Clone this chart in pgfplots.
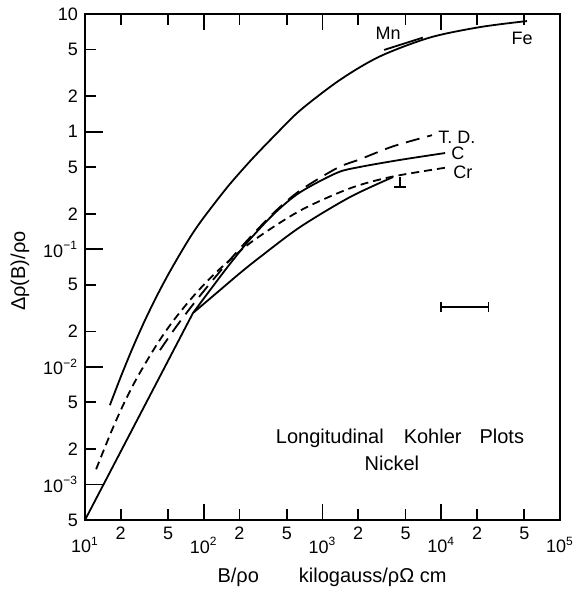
\documentclass[border=0pt]{standalone}
\usepackage{fontspec}
\setmainfont{Liberation Sans}
\usepackage{pgfplots}
\pgfplotsset{compat=1.18}

\begin{document}
\begin{tikzpicture}
\begin{loglogaxis}[
  scale only axis,
  width=237.5pt, height=253pt,
  xmin=10, xmax=1e5, ymin=5e-4, ymax=10,
  axis line style={line width=1.1pt},
  tick style={line width=0.9pt, black},
  tick align=inside,
  xtick pos=both, ytick pos=left,
  major tick length=5.5pt, minor tick length=0pt,
  /pgf/number format/assume math mode=true,
  ticklabel style={font=\fontsize{9}{10}\selectfont},
  xtick={20,50,200,500,2000,5000,20000,50000},
  xticklabels={2,5,2,5,2,5,2,5},
  extra x ticks={10,100,1000,10000,100000},
  extra x tick labels={10\textsuperscript{1},10\textsuperscript{2},10\textsuperscript{3},10\textsuperscript{4},10\textsuperscript{5}},
  extra x tick style={major tick length=8pt, xticklabel style={yshift=-5pt}},
  ytick={5e-4,2e-3,5e-3,2e-2,5e-2,0.2,0.5,2,5,10},
  yticklabels={5,2,5,2,5,2,5,2,5,10},
  extra y ticks={1e-3,1e-2,0.1,1},
  extra y tick labels={10\textsuperscript{−3},10\textsuperscript{−2},10\textsuperscript{−1},1},
  extra y tick style={major tick length=9pt},
  xlabel={B/ρo\hspace{20pt}kilogauss/ρΩ cm},
  ylabel={Δρ(B)/ρo},
  label style={font=\fontsize{10}{12}\selectfont},
  xlabel style={at={(axis description cs:0.52,-0.113)}, anchor=center},
  ylabel style={at={(axis description cs:-0.137,0.492)}, anchor=center},
  every axis plot/.append style={black, line width=0.9pt},
]
% Mn / Fe
\addplot[smooth] coordinates {(16.2,4.73e-3) (19.95,8.17e-3) (25.1,0.0144) (31.6,0.0243) (39.8,0.0392) (50.1,0.0608) (63.1,0.0912) (79.4,0.1334) (100,0.1862) (158.5,0.339) (251,0.575) (398,0.933) (647,1.514) (1403,2.754) (3048,4.365) (8035,6.31) (21180,7.74) (52720,8.71)};
\addplot[no marks] coordinates {(3300,4.95) (7000,6.3)};
% C
\addplot[no marks] coordinates {(10,5e-4) (81.1,0.0287)};
\addplot[smooth] coordinates {(81.1,0.0287) (113,0.045) (166,0.075) (245,0.1216) (398,0.204) (647,0.305) (1325,0.447) (2069,0.501) (4494,0.575) (10770,0.658)};
% T.D.
\addplot[smooth, dash pattern=on 7pt off 4pt] coordinates {(42.8,0.0139) (57.3,0.0213) (81.1,0.0339) (113,0.0513) (166,0.0813) (245,0.126) (398,0.209) (647,0.316) (1325,0.49) (2069,0.582) (3925,0.75) (8356,0.933)};
% Cr
\addplot[smooth, dash pattern=on 4pt off 2.5pt] coordinates {(12.4,1.35e-3) (16.9,2.92e-3) (21.7,5.11e-3) (27.9,8.34e-3) (40.4,0.0156) (55.1,0.0245) (76.6,0.037) (106,0.0531) (145,0.0719) (260,0.118) (647,0.213) (1706,0.33) (3846,0.414) (10770,0.493)};
% lower solid
\addplot[smooth] coordinates {(81.1,0.0287) (137,0.045) (202,0.0628) (298,0.0859) (647,0.1545) (1706,0.278) (3925,0.411)};
\addplot[no marks] coordinates {(4494,0.41) (4494,0.338)};
\addplot[no marks] coordinates {(4000,0.338) (5050,0.338)};
% resolution bar
\addplot[mark=|, mark size=2.5pt] coordinates {(1e4,0.0323) (2.5e4,0.0323)};

\node[font=\fontsize{9}{10}\selectfont] at (axis cs:3565,6.89) {Mn};
\node[font=\fontsize{9}{10}\selectfont] at (axis cs:47860,6.25) {Fe};
\node[font=\fontsize{9}{10}\selectfont, anchor=west, inner sep=0.5pt] at (axis cs:9204,0.9) {T. D.};
\node[font=\fontsize{9}{10}\selectfont, anchor=west, inner sep=0.5pt] at (axis cs:11860,0.658) {C};
\node[font=\fontsize{9}{10}\selectfont, anchor=west, inner sep=0.5pt] at (axis cs:12330,0.453) {Cr};
\node[font=\fontsize{10}{12}\selectfont] at (axis cs:4494,2.48e-3) {Longitudinal\hspace{10pt}Kohler\hspace{9pt}Plots};
\node[font=\fontsize{10}{12}\selectfont] at (axis cs:3846,1.52e-3) {Nickel};

\coordinate (ll) at (rel axis cs:0,0);
\coordinate (ur) at (rel axis cs:1,1);
\end{loglogaxis}
\pgfresetboundingbox
\path ([shift={(-42.5pt,-35pt)}]ll) rectangle ([shift={(9pt,7pt)}]ur);
\end{tikzpicture}
\end{document}
